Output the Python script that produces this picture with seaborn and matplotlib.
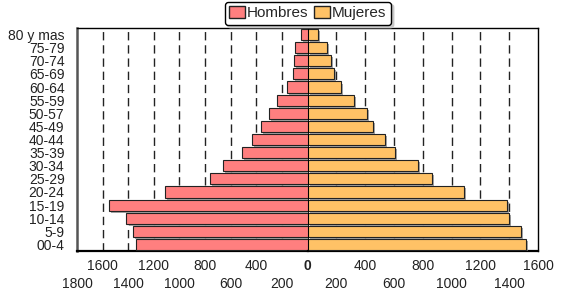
import numpy as np
import pandas as pd
import matplotlib
matplotlib.use("Agg")
import matplotlib.pyplot as plt
import matplotlib.patheffects as pe
from matplotlib.patches import Patch
import seaborn as sns

# age groups, top to bottom as drawn
AGES = ["80 y mas", "75-79", "70-74", "65-69", "60-64", "55-59", "50-57",
        "45-49", "40-44", "35-39", "30-34", "25-29", "20-24", "15-19",
        "10-14", "5-9", "00-4"]
HOMBRES = [50, 95, 105, 115, 157, 240, 300, 367, 434, 515, 660, 759,
           1114, 1550, 1414, 1363, 1337]
MUJERES = [71, 133, 161, 182, 230, 323, 415, 452, 540, 605, 765, 864,
           1088, 1385, 1398, 1484, 1519]

LEFT_TICKS = [1800, 1600, 1400, 1200, 1000, 800, 600, 400, 200]
RIGHT_TICKS = [0, 200, 400, 600, 800, 1000, 1200, 1400, 1600]

MALE_COLOR = "#FF7F7F"
FEMALE_COLOR = "#FFC266"

sns.set_theme(style="white")
plt.rcParams["font.family"] = ["Liberation Sans", "DejaVu Sans"]

df = pd.DataFrame({"edad": AGES, "Hombres": HOMBRES, "Mujeres": MUJERES})

fig = plt.figure(figsize=(5.7, 3.01), dpi=100)
ax_l = fig.add_axes([77 / 570, 1 - 251 / 301, (307.5 - 77) / 570, 223 / 301])
ax_r = fig.add_axes([307.5 / 570, 1 - 251 / 301, (538 - 307.5) / 570, 223 / 301],
                    sharey=ax_l)

shadow = [pe.SimplePatchShadow(offset=(1.5, -1.5), shadow_rgbFace="gray", alpha=0.7),
          pe.Normal()]

sns.barplot(data=df, x="Hombres", y="edad", order=AGES, color=MALE_COLOR,
            saturation=1, width=0.85, edgecolor="#222222", linewidth=0.8,
            ax=ax_l, zorder=3)
sns.barplot(data=df, x="Mujeres", y="edad", order=AGES, color=FEMALE_COLOR,
            saturation=1, width=0.85, edgecolor="#222222", linewidth=0.8,
            ax=ax_r, zorder=3)
for ax in (ax_l, ax_r):
    for p in ax.patches:
        p.set_path_effects(shadow)

ax_l.set_xlim(LEFT_TICKS[0], 0)
ax_r.set_xlim(0, RIGHT_TICKS[-1])
ax_l.set_ylim(len(AGES) - 0.5, -0.5)

dash = (0, (6, 3.5))
for v in LEFT_TICKS[1:]:
    ax_l.axvline(v, color="#222222", lw=1, linestyle=dash, zorder=1)
for v in RIGHT_TICKS[1:-1]:
    ax_r.axvline(v, color="#222222", lw=1, linestyle=dash, zorder=1)
ax_r.axvline(0, color="black", lw=1.3, zorder=5)

ax_l.set_xticks(LEFT_TICKS)
ax_l.set_xticklabels([str(t) for t in LEFT_TICKS])
ax_r.set_xticks(RIGHT_TICKS)
ax_r.set_xticklabels([str(t) for t in RIGHT_TICKS])
ax_r.get_xticklabels()[0].set_fontweight("bold")

for ax in (ax_l, ax_r):
    ax.set_xlabel("")
    ax.set_ylabel("")
    ax.tick_params(axis="x", length=0, labelsize=10, colors="#222222")
    ax.tick_params(axis="y", length=0, pad=9, labelsize=10, colors="#222222")
    ax.set_facecolor("white")
    # staggered labels: multiples of 400 on the upper row
    for tick, val in zip(ax.xaxis.get_major_ticks(), ax.get_xticks()):
        tick.set_pad(6 if int(val) % 400 == 0 else 19)

ax_r.tick_params(axis="y", left=False, labelleft=False)
ax_l.spines["right"].set_visible(False)
ax_r.spines["left"].set_visible(False)
ax_l.spines["left"].set_color("#555555")
ax_l.spines["left"].set_linewidth(1.8)
for ax in (ax_l, ax_r):
    ax.spines["top"].set_color("black")
    ax.spines["top"].set_linewidth(1)
    ax.spines["bottom"].set_color("black")
    ax.spines["bottom"].set_linewidth(1.6)
ax_r.spines["right"].set_color("black")
ax_r.spines["right"].set_linewidth(1)

handles = [Patch(facecolor=MALE_COLOR, edgecolor="#222222", label="Hombres"),
           Patch(facecolor=FEMALE_COLOR, edgecolor="#222222", label="Mujeres")]
leg = fig.legend(handles=handles, loc="upper center", bbox_to_anchor=(0.54, 1.0),
                 ncol=2, frameon=True, fancybox=True, shadow={"color": "#c8c8c8", "alpha": 1},
                 fontsize=11, handlelength=1.0, handleheight=0.8,
                 handletextpad=0.15, columnspacing=0.4, borderpad=0.3,
                 borderaxespad=0.1)
leg.get_frame().set_edgecolor("black")
leg.get_frame().set_linewidth(1)

fig.savefig("out.png", dpi=100)
